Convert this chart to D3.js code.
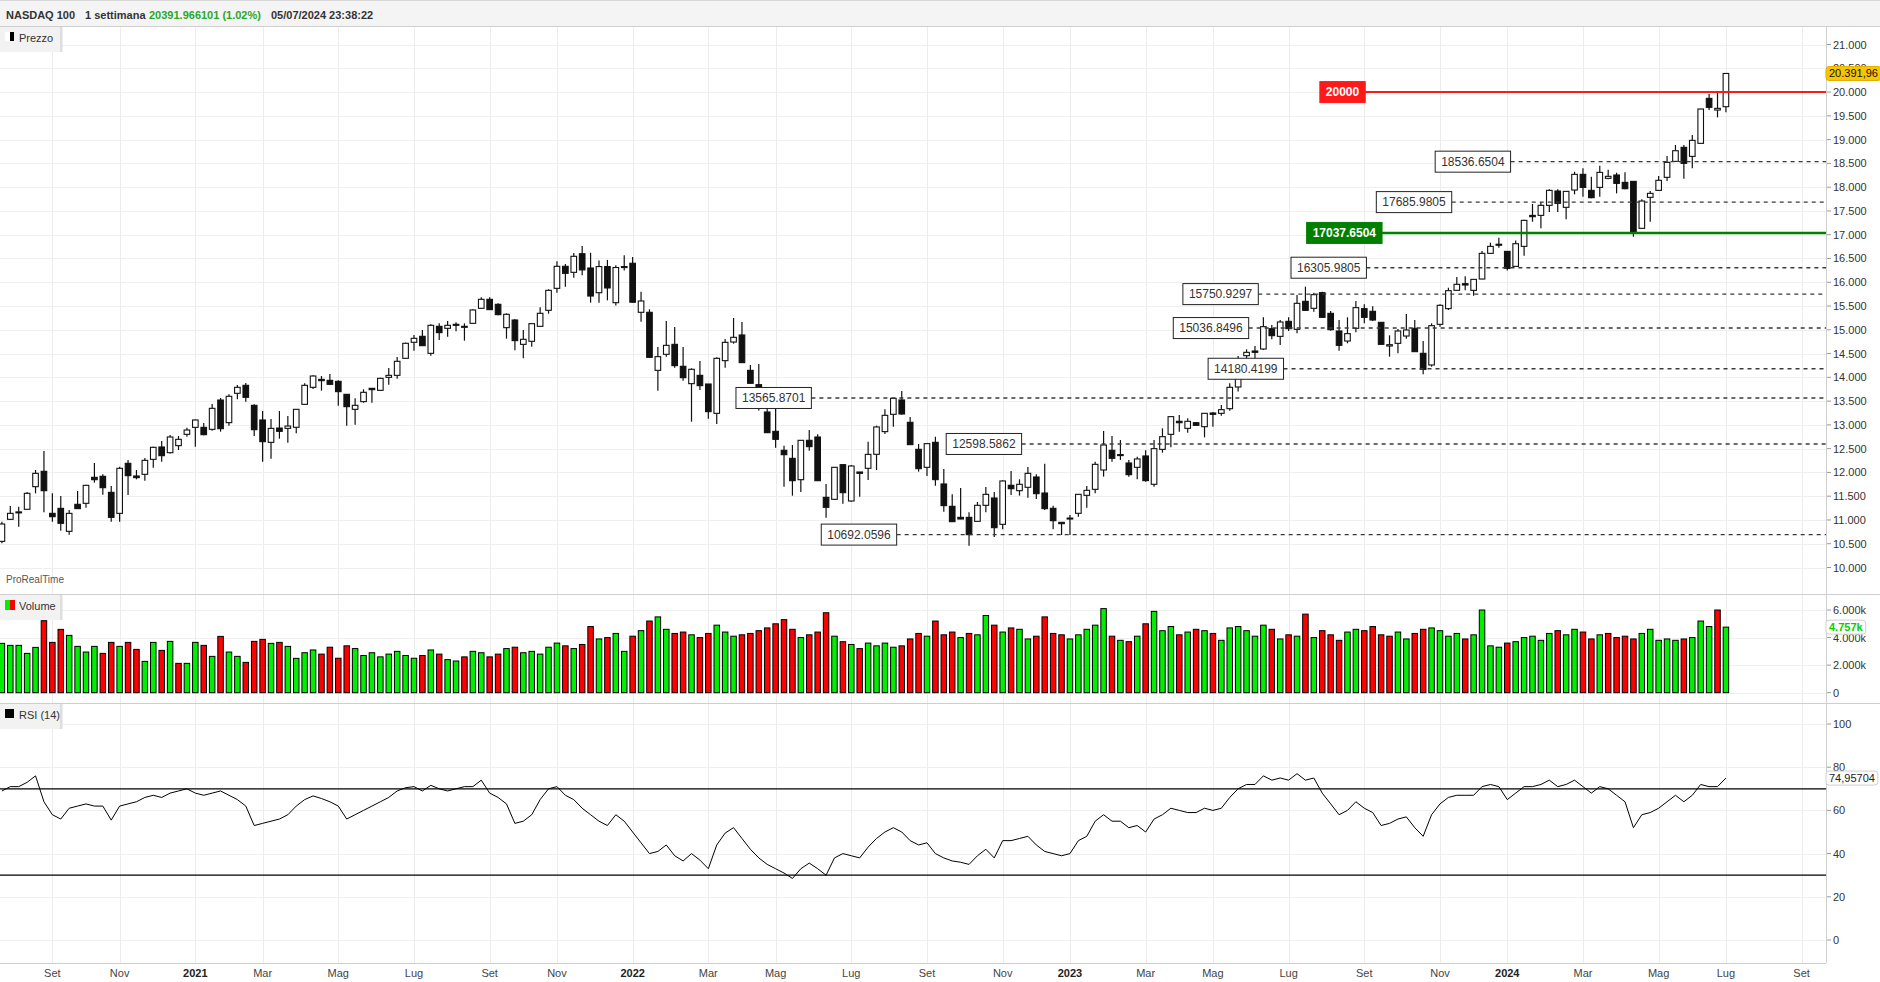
<!DOCTYPE html>
<html><head><meta charset="utf-8">
<script src="https://cdn.jsdelivr.net/npm/d3@7"></script>
<style>
html,body{margin:0;padding:0;background:#fff;}
svg{display:block;font-family:"Liberation Sans",Arial,sans-serif;}
</style></head><body>
<svg id="c" width="1880" height="982"></svg>
<script>
// ---------- DATA ----------
const startDate = "2020-07-27"; // Monday of first weekly candle
const open = [10550,11013,11160,11224,11700,12023,11139,11244,10761,11329,11350,11897,11918,11581,11139,12191,11925,11960,12275,12535,12415,12563,12801,12948,12948,12906,13523,13047,13664,13832,13411,13103,12633,12934,12927,12949,13432,13790,13958,13937,13916,13643,13327,13489,13769,13727,14000,14042,14400,14737,14863,14505,15073,15031,15115,15066,15136,15452,15641,15536,15045,15206,14694,14758,15073,15410,15872,16335,16209,16600,16300,15780,16330,15570,16330,16400,15368,15368,14147,14484,14694,14232,13867,14042,13860,13243,14351,14743,14891,14147,13846,13271,12864,12465,12296,11847,12675,12745,11476,11434,12163,11399,12009,12086,12381,12858,13222,13524,13054,12486,12107,12633,11757,11287,11055,11055,10971,11308,11462,10908,11729,11616,11687,11904,11567,11245,10950,11030,11140,11518,11644,12051,12465,12360,12198,12107,12346,11750,12485,12801,13075,12927,13046,12962,13250,13243,13341,13797,14456,14554,14596,15024,14862,15178,15010,15599,15452,15781,15346,14975,14764,15031,15445,15389,15157,14659,14715,14869,15031,14505,14260,15115,15445,15830,15970,15830,16068,16608,16800,16650,16334,16755,17407,17407,17618,17919,17576,17940,18270,17933,17996,18186,18256,18101,18122,17134,17786,17933,18207,18543,18838,18648,18922,19868,19623,19693];
const high = [10964,11294,11280,11588,12051,12450,11560,11504,11209,11609,11740,12198,11960,11714,12121,12261,12051,12303,12540,12661,12787,12766,12941,13115,13040,13439,13565,13643,13839,13881,13432,13292,13124,13292,13187,13330,13874,14042,14028,14070,13937,13650,13559,13748,13775,13993,14197,14428,14730,14891,14996,15115,15136,15185,15157,15136,15431,15683,15683,15557,15347,15227,14996,15135,15473,15852,16440,16384,16616,16765,16620,16460,16470,16360,16570,16530,15800,15431,14638,15185,15059,14638,14190,14344,13860,14421,14807,15248,15164,14260,14281,13550,13600,12563,12577,12680,12892,12801,11756,12110,12177,12156,12010,12647,12984,13327,13565,13713,13166,12598,12610,12752,12072,11539,11672,11161,11378,11693,11588,11834,12030,11855,12114,11960,12184,11301,10950,11105,11545,11714,12226,12872,12766,12682,12262,12332,12465,12682,12927,13180,13208,13138,13060,13250,13271,13418,13874,14450,14589,14659,15262,15101,15206,15262,15732,15907,15781,15802,15395,15206,15262,15606,15536,15494,15160,14884,15017,15332,15206,14764,15136,15536,15886,16110,16124,16065,16657,16832,16937,16655,16881,17316,17646,17681,17954,17954,17915,18325,18396,18221,18452,18368,18305,18312,18125,17744,17919,18235,18655,18887,18887,19097,19650,19960,20002,20400];
const low = [10508,11000,10859,11224,11560,11160,10964,10775,10690,11230,11259,11784,11532,10964,10964,11525,11855,11827,12100,12226,12400,12472,12752,12542,12780,12878,12857,12984,13537,13488,12766,12226,12289,12710,12626,12822,13420,13755,13720,13839,13404,12984,13005,13467,13467,13720,13846,13972,14390,14561,14660,14456,14786,14856,14968,14772,15130,15445,15420,15305,14814,14568,14400,14645,15070,15340,15781,15908,16097,16150,15570,15570,15620,15510,16250,15570,15171,14410,13720,14435,14204,13930,13068,13734,13131,13019,14204,14708,14300,13870,13300,12830,12521,11700,11511,11588,12458,11820,11048,11430,11343,11385,11490,11840,12051,12808,12963,13215,12580,12016,11925,11722,11175,10960,11015,10459,10964,11161,10642,10803,11525,11511,11469,11441,11210,10803,10684,10684,11069,11259,11560,11911,12226,12262,11911,11855,11806,11701,12415,12527,12857,12836,12983,12738,12962,13194,13299,13700,14386,14386,14575,14799,14680,14975,14926,15395,15381,15255,14982,14561,14715,14947,15136,15185,14690,14435,14505,14813,14535,14063,14224,15066,15417,15825,15830,15717,16065,16600,16727,16250,16330,16559,17274,17134,17477,17477,17323,17849,17800,17765,17800,18165,17870,17954,16958,17130,17274,17930,18130,18540,18178,18396,18920,19623,19469,19574];
const close = [10915,11139,11170,11560,11981,11616,11069,10929,11139,11238,11728,11847,11679,11055,12086,11932,11890,12254,12528,12352,12745,12696,12892,13103,12794,13348,12920,13601,13790,13580,12899,12647,12927,12864,12976,13327,13832,14028,13930,13853,13699,13383,13411,13685,13741,13979,14042,14337,14716,14821,14666,15094,14940,15094,15108,15073,15417,15641,15424,15319,15326,14772,14800,15129,15347,15830,16335,16188,16546,16260,15710,16330,15880,16310,16320,15580,15606,14421,14435,14673,14246,13993,14169,13825,13278,14400,14736,14842,14309,13874,13360,12836,12696,12373,11826,12675,12542,11826,11266,12107,11574,12135,11981,12380,12956,13201,13559,13229,12584,12079,12605,11848,11301,10964,11020,10691,11308,11539,10838,11820,11658,11750,11981,11553,11238,10985,10922,11040,11539,11623,12170,12577,12297,12375,11953,12283,11827,12500,12752,13173,13046,13075,12990,13243,13222,13320,13790,14350,14526,14526,15066,14877,15164,15024,15557,15409,15739,15262,15003,14673,14919,15466,15262,15206,14694,14687,14975,14996,14540,14168,15087,15515,15823,15956,15942,16061,16608,16755,16790,16292,16811,17302,17379,17618,17933,17660,17912,18270,17996,17779,18312,18228,18080,17968,17028,17709,17870,18144,18522,18767,18501,18985,19644,19679,19658,20391.966101];
const volume = [3579,3434,3434,2853,3288,5223,3651,4594,4159,3361,2950,3361,2853,3651,3361,3651,3143,2273,3651,3071,3724,2128,2128,3651,3434,2636,4086,2950,2636,2200,3724,3869,3579,3651,3361,2491,
2900,3100,2800,3300,2500,3400,3200,2700,2900,2600,2800,3000,2700,2500,2700,3100,2800,2400,2300,2600,3000,2900,2600,2800,3200,3300,2900,3000,2800,3300,3600,3400,3200,3500,
4800,3900,4000,4300,3000,4100,4500,5200,5500,4600,
4300,4400,4200,4000,4300,4900,4400,4100,4200,4300,
4500,4700,5000,5300,4600,4000,4200,4400,5800,4100,
3700,3500,3200,3600,3400,3600,3300,3400,3900,4300,
4100,5200,4200,4400,4000,4300,4200,5600,4900,4400,
4700,4600,3900,4100,5500,4300,4200,3900,4200,4600,
4900,6100,4100,3800,3700,4100,5000,5900,4500,4800,
4200,4400,4600,4500,4300,3800,4700,4800,4500,4100,
4900,4600,3900,4200,4100,5700,4000,4500,4200,3800,
4400,4600,4500,4800,4200,4100,4400,3900,4300,4600,
4700,4500,4100,4300,3900,4200,6000,3400,3300,3600,
3700,4000,4100,3800,4300,4500,4200,4600,4400,3900,
4200,4300,4000,4100,3900,4300,4600,3800,3900,3800,
3900,4000,5200,4800,6000,4757];
const rsi = [69,71,71,73,76,64,58,56,61,62,63,62,62,55.5,62,63,64,66,67,66,68,69,70,68,67,68,69,67,65,62,53,54,55,56,58,62,65,66.7,65.5,64,62,56,58,60,62,64,66,69,70.5,71,69,71.6,70,69,70,71,71,74,68,66,63,54,55,58,65,70,71,67,65,61,58,55,53,58,55,50,45,40,41,44,39,36.6,40,37,33,44,49.5,52,47,42,38,35,33,31,28.5,33,35.6,33,30,38,40,39,38,43,47,50,52,50,46,44,45,40,38,36.6,36,35,39,42,38,46,46,47,48,44,41,40,39,40,46,48,55,58,55,55,52,53,50,56,58,61,60,59,59,61,60,61,66,70,72,72,76,74,75,74,77,74,75,68,63,58,60,64,61,59,53,54,56,57,52,48,58,63,66,67,67,67,71,72,71,65,68,71,71,72,74,71,72,74,71,68,71,70,67,64,52,58,59,61,64,67,64,67,72,71,71,74.95704];

const xTickDates  = ["2020-09-07","2020-11-02","2021-01-04","2021-03-01","2021-05-03","2021-07-05","2021-09-06","2021-11-01","2022-01-03","2022-03-07","2022-05-02","2022-07-04","2022-09-05","2022-11-07","2023-01-02","2023-03-06","2023-05-01","2023-07-03","2023-09-04","2023-11-06","2024-01-01","2024-03-04","2024-05-06","2024-07-01","2024-09-02"];
const xTickLabels = ["Set","Nov","2021","Mar","Mag","Lug","Set","Nov","2022","Mar","Mag","Lug","Set","Nov","2023","Mar","Mag","Lug","Set","Nov","2024","Mar","Mag","Lug","Set"];
const priceTicks = [10000,10500,11000,11500,12000,12500,13000,13500,14000,14500,15000,15500,16000,16500,17000,17500,18000,18500,19000,19500,20000,20500,21000];
const volumeTicks = [0,2000,4000,6000];
const rsiTicks = [0,20,40,60,80,100];
const rsiLevels = [70,30];

const levelValues = [20000,17037.6504,18536.6504,17685.9805,16305.9805,15750.9297,15036.8496,14180.4199,13565.8701,12598.5862,10692.0596];
const levelKinds  = ["red","green","dash","dash","dash","dash","dash","dash","dash","dash","dash"];
const levelStart  = ["2023-07-29","2023-07-18","2023-11-02","2023-09-14","2023-07-05","2023-04-06","2023-03-29","2023-04-27","2022-03-30","2022-09-21","2022-06-09"];

const headerParts = [["NASDAQ 100","#333"],["1 settimana","#333"],["20391.966101 (1.02%)","#2aa82a"],["05/07/2024 23:38:22","#333"]];

// ---------- LAYOUT ----------
const W = 1880, H = 982, plotR = 1826;
const P = {top:26, bot:594}, V = {top:594, bot:703}, R = {top:703, bot:963};
const svg = d3.select("#c");
const loc = d3.formatLocale({decimal:",", thousands:".", grouping:[3], currency:["","€"]});
const fInt = loc.format(",d");
const parse = d3.utcParse("%Y-%m-%d");
const t0 = parse(startDate).getTime();
const wk = d => (parse(d).getTime() - t0) / (7*864e5);

const x = d3.scaleLinear().domain([-0.226, 216.9]).range([0, plotR]);
const y = d3.scaleLinear().domain([10000, 21000]).range([567.5, 44.56]);
const yv = d3.scaleLinear().domain([0, 6000]).range([692.7, 610]);
const yr = d3.scaleLinear().domain([0, 100]).range([940, 724]);

// header
svg.append("rect").attr("x",0).attr("y",0).attr("width",W).attr("height",P.top).attr("fill","#f4f4f4");
svg.append("line").attr("x1",0).attr("x2",W).attr("y1",0.5).attr("y2",0.5).attr("stroke","#d8d8d8");
const hx = [6,85,149,271];
headerParts.forEach((p,k)=>{
  svg.append("text").attr("x",hx[k]).attr("y",18.5).attr("font-size",11).attr("font-weight","bold").attr("fill",p[1]).text(p[0]);
});

// grid
const gGrid = svg.append("g").attr("shape-rendering","crispEdges");
xTickDates.forEach(d=>{
  const xx = Math.round(x(wk(d)))+0.5;
  if (xx < plotR) gGrid.append("line").attr("x1",xx).attr("x2",xx).attr("y1",P.top).attr("y2",R.bot).attr("stroke","#ececec");
});
priceTicks.forEach(v=>{ const yy=Math.round(y(v))+0.5; gGrid.append("line").attr("x1",0).attr("x2",plotR).attr("y1",yy).attr("y2",yy).attr("stroke","#efefef");});
volumeTicks.forEach(v=>{ const yy=Math.round(yv(v))+0.5; gGrid.append("line").attr("x1",0).attr("x2",plotR).attr("y1",yy).attr("y2",yy).attr("stroke","#efefef");});
rsiTicks.forEach(v=>{ const yy=Math.round(yr(v))+0.5; gGrid.append("line").attr("x1",0).attr("x2",plotR).attr("y1",yy).attr("y2",yy).attr("stroke","#efefef");});

// clip paths
const defs = svg.append("defs");
[["cp",P],["cv",V],["cr",R]].forEach(([id,p])=>{
  defs.append("clipPath").attr("id",id).append("rect").attr("x",0).attr("y",p.top+1).attr("width",plotR).attr("height",p.bot-p.top-1);
});

// candles
const idx = d3.range(open.length);
const gC = svg.append("g").attr("clip-path","url(#cp)");
const bw = 5.6;
gC.selectAll("line.w").data(idx).join("line")
  .attr("x1",i=>x(i)).attr("x2",i=>x(i)).attr("y1",i=>y(high[i])).attr("y2",i=>y(low[i]))
  .attr("stroke","#111").attr("stroke-width",1.2);
gC.selectAll("rect.b").data(idx).join("rect")
  .attr("x",i=>x(i)-bw/2).attr("width",bw)
  .attr("y",i=>y(Math.max(open[i],close[i])))
  .attr("height",i=>Math.max(1,Math.abs(y(open[i])-y(close[i]))))
  .attr("fill",i=>close[i]>=open[i]?"#fff":"#111")
  .attr("stroke","#111").attr("stroke-width",1.1);

// levels
const gL = svg.append("g");
levelValues.forEach((v,k)=>{
  const kind = levelKinds[k];
  const yy = y(v);
  const x0 = x(wk(levelStart[k]));
  const label = kind==="red" ? d3.format("d")(v) : d3.format(".4f")(v);
  const t = gL.append("text").attr("x",x0+6).attr("y",yy+4.3).attr("font-size",12)
    .attr("font-weight",kind==="dash"?"normal":"bold")
    .attr("fill",kind==="dash"?"#333":"#fff").text(label);
  const tw = t.node().getComputedTextLength();
  const bwid = tw+12;
  const col = kind==="red"?"#ff1a1a":kind==="green"?"#007f00":"#444";
  const ln = gL.insert("line","text").attr("x1",x0+bwid).attr("x2",plotR).attr("y1",yy).attr("y2",yy);
  if (kind==="dash") ln.attr("stroke","#3a3a3a").attr("stroke-width",1.4).attr("stroke-dasharray","4,4");
  else ln.attr("stroke",col).attr("stroke-width",kind==="red"?2:2.5);
  gL.insert("rect","text").attr("x",x0).attr("y",yy-10.5).attr("width",bwid).attr("height",21)
    .attr("fill",kind==="dash"?"#fff":col).attr("stroke",kind==="dash"?"#222":col).attr("stroke-width",1);
  t.raise();
});

// volume
const gV = svg.append("g").attr("clip-path","url(#cv)");
gV.selectAll("rect").data(idx).join("rect")
  .attr("x",i=>x(i)-2.75).attr("width",5.5)
  .attr("y",i=>yv(volume[i])).attr("height",i=>yv(0)-yv(volume[i]))
  .attr("fill",i=>(i===0||close[i]>=close[i-1])?"#00ee00":"#ff0000")
  .attr("stroke","#000").attr("stroke-width",1);

// RSI
const gR = svg.append("g").attr("clip-path","url(#cr)");
rsiLevels.forEach(v=>gR.append("line").attr("x1",0).attr("x2",plotR).attr("y1",yr(v)).attr("y2",yr(v)).attr("stroke","#000").attr("stroke-width",1.3));
gR.append("path").datum(idx).attr("d",d3.line().x(i=>x(i)).y(i=>yr(rsi[i]))).attr("fill","none").attr("stroke","#000").attr("stroke-width",1);

// separators & axis line
const gS = svg.append("g").attr("shape-rendering","crispEdges");
[P.top, V.top, R.top].forEach(yy=>gS.append("line").attr("x1",0).attr("x2",W).attr("y1",yy+0.5).attr("y2",yy+0.5).attr("stroke","#cfcfcf"));
gS.append("line").attr("x1",0).attr("x2",plotR).attr("y1",R.bot+0.5).attr("y2",R.bot+0.5).attr("stroke","#cfcfcf");
gS.append("line").attr("x1",plotR+0.5).attr("x2",plotR+0.5).attr("y1",P.top).attr("y2",R.bot).attr("stroke","#cfcfcf");

// right axes
function rightAxis(scale, ticks, fmt){
  const g = svg.append("g");
  ticks.forEach(v=>{
    const yy = scale(v);
    g.append("line").attr("x1",plotR+1).attr("x2",plotR+5).attr("y1",yy).attr("y2",yy).attr("stroke","#999");
    g.append("text").attr("x",plotR+7).attr("y",yy+4).attr("font-size",11).attr("fill","#333").text(fmt(v));
  });
}
rightAxis(y, priceTicks, v=>fInt(v));
rightAxis(yv, volumeTicks, v=>v===0?"0":fInt(v)+"k");
rightAxis(yr, rsiTicks, v=>String(v));

// value tags
function tag(yy, text, fill, stroke, color, bold){
  const g = svg.append("g");
  const t = g.append("text").attr("x",plotR+3).attr("y",yy+4).attr("font-size",11).attr("fill",color).attr("font-weight",bold?"bold":"normal").text(text);
  const tw = t.node().getComputedTextLength();
  g.insert("rect","text").attr("x",plotR).attr("y",yy-7).attr("width",tw+6).attr("height",14).attr("rx",3)
    .attr("fill",fill).attr("stroke",stroke);
}
const last = close.length-1;
tag(y(close[last]), loc.format(",.2f")(Math.floor(close[last]*100)/100), "#f7c600", "#e0b000", "#111", false);
tag(yv(volume[last]), fInt(volume[last])+"k", "#fff", "#cfcfcf", "#00d000", true);
tag(yr(rsi[last]), loc.format(".5f")(rsi[last]), "#fff", "#cfcfcf", "#222", false);

// x axis labels
xTickDates.forEach((d,k)=>{
  const xx = x(wk(d));
  const isYear = /^\d{4}$/.test(xTickLabels[k]);
  svg.append("text").attr("x",xx).attr("y",977).attr("text-anchor","middle").attr("font-size",11)
    .attr("font-weight",isYear?"bold":"normal").attr("fill",isYear?"#222":"#444").text(xTickLabels[k]);
});

// panel title boxes
function panelTitle(y0, label, icon){
  const g = svg.append("g");
  g.append("rect").attr("x",0).attr("y",y0+1).attr("width",60).attr("height",25).attr("fill","#f2f2f2");
  g.append("rect").attr("x",60).attr("y",y0+1).attr("width",2.5).attr("height",25).attr("fill","#dedede");
  icon(g, y0);
  g.append("text").attr("x",19).attr("y",y0+15.5).attr("font-size",11).attr("fill","#333").text(label);
}
panelTitle(P.top, "Prezzo", (g,y0)=>{ g.append("rect").attr("x",5).attr("y",y0+6).attr("width",5).attr("height",9).attr("fill","#fff"); g.append("rect").attr("x",10).attr("y",y0+6).attr("width",4).attr("height",9).attr("fill","#000");});
panelTitle(V.top, "Volume", (g,y0)=>{ g.append("rect").attr("x",5).attr("y",y0+6).attr("width",5).attr("height",10).attr("fill","#00ee00"); g.append("rect").attr("x",10).attr("y",y0+6).attr("width",5).attr("height",10).attr("fill","#ff0000");});
panelTitle(R.top, "RSI (14)", (g,y0)=>{ g.append("rect").attr("x",5).attr("y",y0+6).attr("width",9).attr("height",9).attr("fill","#000");});

svg.append("text").attr("x",6).attr("y",583).attr("font-size",10).attr("fill","#555").text("ProRealTime");
</script>
</body></html>
